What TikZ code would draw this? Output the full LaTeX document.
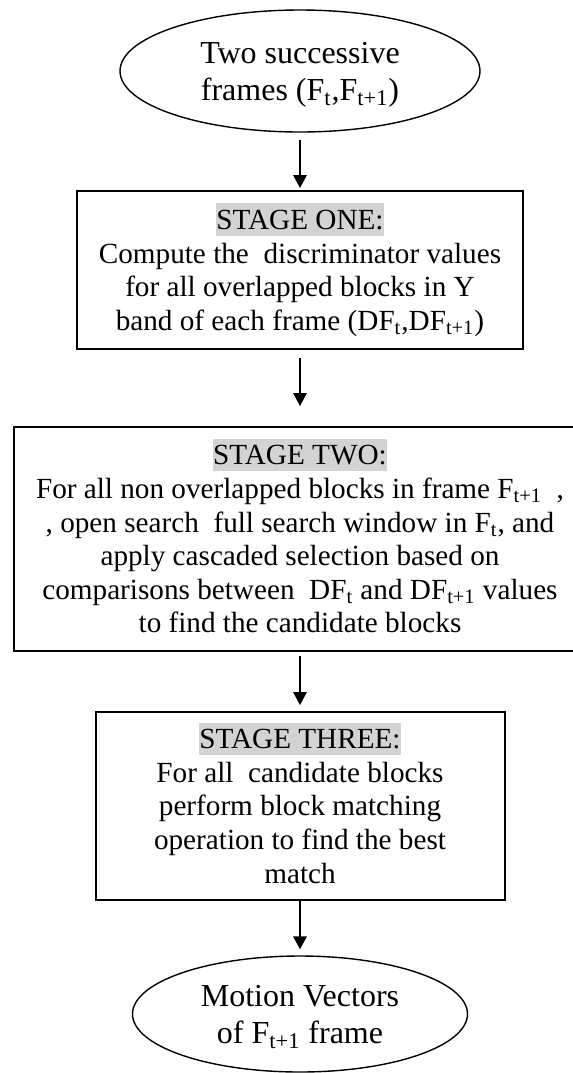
\documentclass[tikz,border=0pt]{standalone}
\usepackage{fontspec}
\setmainfont{Liberation Serif}
\usepackage{xcolor}
\usetikzlibrary{shapes.geometric,arrows.meta}
\definecolor{hlgray}{RGB}{211,211,211}
\newcommand{\dstrut}{\rule[-0.216em]{0pt}{1.107em}}
\newcommand{\stagelabel}[1]{{\setlength{\fboxsep}{0pt}\colorbox{hlgray}{\dstrut#1}}}

\begin{document}
\begin{tikzpicture}[x=1pt,y=1pt]
  \tikzset{terminal/.style={draw,ellipse,line width=0.7pt,inner sep=0pt,align=center,font=\fontsize{16pt}{18.5pt}\selectfont}}
  \tikzset{stagebox/.style={draw,rectangle,line width=1pt,align=center,font=\fontsize{14.6pt}{16.8pt}\selectfont}}
  \tikzset{transition/.style={-{Triangle[length=6.5pt,width=6.8pt]},line width=0.7pt}}
  \useasboundingbox (0,0) rectangle (286.5,-536.5);
  \node[terminal,minimum width=180pt,minimum height=61pt] (frames) at (150,-35.5)
    {\dstrut Two successive\\frames (F\textsubscript{t},F\textsubscript{t+1})\dstrut};
  \node[stagebox,minimum width=223pt,minimum height=79pt] (stageOne) at (150,-135)
    {\stagelabel{STAGE ONE:}\\Compute the\ \ discriminator values\\for all overlapped blocks in Y\\band of each frame (DF\textsubscript{t},DF\textsubscript{t+1})\dstrut};
  \node[stagebox,minimum width=286pt,minimum height=112pt] (stageTwo) at (150,-269.5)
    {\stagelabel{STAGE TWO:}\\For all non overlapped blocks in frame F\textsubscript{t+1}\ \ ,\\, open search\ \ full search window in F\textsubscript{t}, and\\apply cascaded selection based on\\comparisons between\ \ DF\textsubscript{t} and DF\textsubscript{t+1} values\\to find the candidate blocks\dstrut};
  \node[stagebox,minimum width=204.5pt,minimum height=94pt] (stageThree) at (150,-403)
    {\stagelabel{STAGE THREE:}\\For all\ \ candidate blocks\\perform block matching\\operation to find the best\\match\dstrut};
  \node[terminal,minimum width=167.5pt,minimum height=58pt] (vectors) at (150,-507)
    {\dstrut Motion Vectors\\of F\textsubscript{t+1} frame\dstrut};
  \draw[transition,shorten <=3.5pt,shorten >=1pt] (frames) -- (stageOne);
  \draw[transition,shorten <=4pt,shorten >=10pt] (stageOne) -- (stageTwo);
  \draw[transition,shorten <=2pt,shorten >=3pt] (stageTwo) -- (stageThree);
  \draw[transition,shorten >=3pt] (stageThree) -- (vectors);
\end{tikzpicture}
\end{document}
